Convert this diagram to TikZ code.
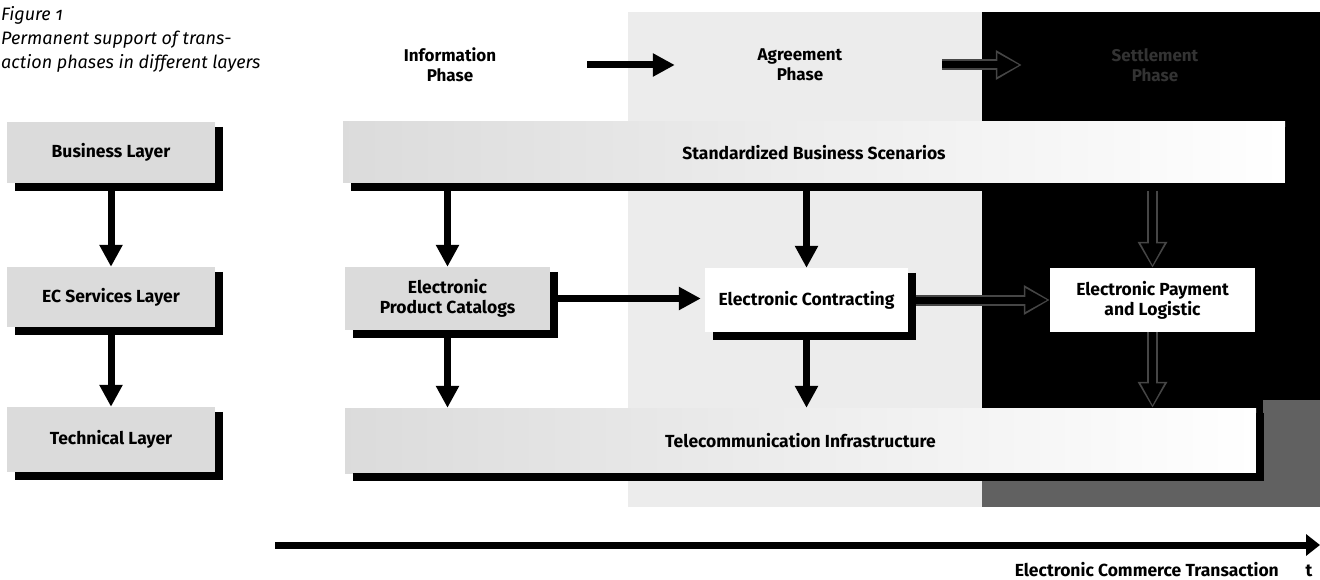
\documentclass[tikz,border=0pt]{standalone}
\usepackage{fontspec}
\setmainfont{Fira Sans}
\usetikzlibrary{arrows.meta}
\newcommand\boxshadow[1]{\draw[shad] ([xshift=3.75pt,yshift=-5pt]#1.north east) |- ([xshift=8pt,yshift=-3.75pt]#1.south west);}
\begin{document}
\begin{tikzpicture}[x=1pt,y=-1pt,
  lay/.style={rectangle, inner sep=0pt, font=\fontsize{17.5}{20}\selectfont\bfseries, align=center},
  gbox/.style={lay, fill=gray!28},
  wbox/.style={lay, fill=white},
  bar/.style={lay, left color=gray!28, right color=white},
  shad/.style={line width=7.5pt, line cap=butt},
  arr/.style={line width=7pt, -{Triangle[width=22pt,length=22pt]}},
  ghostout/.style={line width=11pt, draw=gray!55!black, -{Triangle[width=28pt,length=26pt]}},
  ghostin/.style={line width=7pt, draw=black, -{Triangle[width=22pt,length=22pt]}, shorten >=2.5pt},
  phase/.style={font=\fontsize{17}{20}\selectfont\bfseries, align=center, inner sep=0pt, text width=120pt},
  axisarr/.style={line width=7pt, -{Triangle[width=21pt,length=14pt]}},
  lbl/.style={font=\fontsize{17.5}{20}\selectfont\bfseries, inner sep=0pt},
]
\useasboundingbox (0,0) rectangle (1320,580);
\fill[white] (0,0) rectangle (1320,580);
% background zones
\fill[gray!15] (628,12) rectangle (982,507);
\fill[black] (982,12) rectangle (1320,507);
\fill[black!62] (982,480) rectangle (1320,507);
\fill[black!62] (1263,400) rectangle (1320,507);

% title
\node[anchor=north west, align=left, inner sep=0pt, font=\fontsize{18}{24}\selectfont\itshape] (title) at (1,6)
  {Figure {\addfontfeature{Numbers=OldStyle}1}\\Permanent support of trans-\\action phases in different layers};

% phases
\node[phase] (info) at (450,65) {Information\\Phase};
\node[phase] (agree) at (800,65) {Agreement\\Phase};
\node[phase, text=gray!40!black] (settle) at (1155,65) {Settlement\\Phase};

% layer boxes
\node[gbox, minimum width=208pt, minimum height=61pt] (bl) at (111,152.5) {Business Layer};
\node[gbox, minimum width=208pt, minimum height=60pt] (ecl) at (111,297) {EC Services Layer};
\node[gbox, minimum width=208pt, minimum height=65pt] (tl) at (111,439.5) {Technical Layer};

% main boxes
\node[bar, minimum width=942pt, minimum height=61pt] (sbs) at (814,152.5) {Standardized Business Scenarios};
\node[gbox, minimum width=205pt, minimum height=63pt] (epc) at (447.5,298.5) {Electronic\\Product Catalogs};
\node[wbox, minimum width=203pt, minimum height=64pt] (ec) at (806.5,300) {Electronic Contracting};
\node[wbox, minimum width=205pt, minimum height=64pt] (ep) at (1152.5,300) {Electronic Payment\\and Logistic};
\node[bar, minimum width=911pt, minimum height=65pt] (tel) at (800.5,440.5) {Telecommunication Infrastructure};

% shadows
\boxshadow{bl}
\boxshadow{ecl}
\boxshadow{tl}
\boxshadow{sbs}
\boxshadow{epc}
\boxshadow{ec}
\boxshadow{tel}

% layer arrows
\draw[arr] ([yshift=-7.5pt]bl.south) -- (ecl.north);
\draw[arr] ([yshift=-7.5pt]ecl.south) -- (tl.north);

% phase arrows
\draw[arr] ([xshift=77pt]info.east) -- ([xshift=-65pt]agree.west);
\draw[ghostout] ([xshift=82pt]agree.east) -- ([xshift=-73pt]settle.west);
\draw[ghostin] ([xshift=82pt]agree.east) -- ([xshift=-73pt]settle.west);

% main arrows
\draw[arr] ([yshift=-7.5pt]sbs.south -| epc.north) -- (epc.north);
\draw[arr] ([yshift=-7.5pt]sbs.south -| ec.north) -- (ec.north);
\draw[ghostout] ([yshift=-7.5pt]sbs.south -| ep.north) -- (ep.north);
\draw[ghostin] ([yshift=-7.5pt]sbs.south -| ep.north) -- (ep.north);

\draw[arr] ([xshift=7.5pt]epc.east) -- ([xshift=-4pt]ec.west |- epc.east);
\draw[ghostout] ([xshift=7.5pt]ec.east) -- (ep.west);
\draw[ghostin] ([xshift=7.5pt]ec.east) -- (ep.west);

\draw[arr] ([yshift=-7.5pt]epc.south) -- (tel.north -| epc.south);
\draw[arr] ([yshift=-7.5pt]ec.south) -- (tel.north -| ec.south);
\draw[ghostout] (ep.south) -- (tel.north -| ep.south);
\draw[ghostin] (ep.south) -- (tel.north -| ep.south);

% time axis
\coordinate (ax0) at (275,545);
\coordinate (ax1) at (1320,545);
\draw[axisarr] (ax0) -- (ax1);
\node[lbl, anchor=base east] (ect) at (1279,576) {Electronic Commerce Transaction};
\node[lbl, anchor=base] (tt) at (1309,576) {t};
\end{tikzpicture}
\end{document}
